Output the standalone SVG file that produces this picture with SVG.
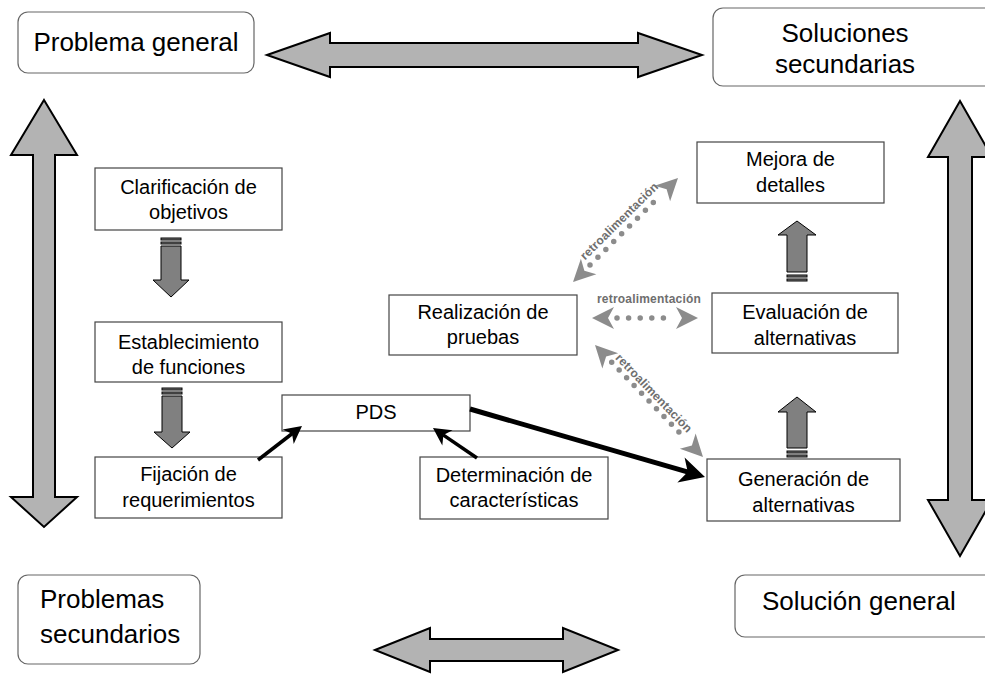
<svg xmlns="http://www.w3.org/2000/svg" width="985" height="675" viewBox="0 0 985 675">
<defs>
<style>
.t{font-family:"Liberation Sans",Arial,sans-serif;fill:#000;}
.big{font-size:26px;}
.med{font-size:20px;}
.rbox{fill:#fff;stroke:#666;stroke-width:1.2;}
.box{fill:#fff;stroke:#444;stroke-width:1.2;}
.bigarrow{fill:#b3b3b3;stroke:#000;stroke-width:2;stroke-linejoin:miter;}
.blk{fill:#808080;stroke:#000;stroke-width:1;}
.dots{fill:none;stroke:#8c8c8c;stroke-width:5.5;stroke-linecap:round;}
.rhead{fill:#8c8c8c;}
.rlab{font-family:"Liberation Sans",Arial,sans-serif;font-size:12px;font-weight:bold;fill:#6e6e6e;letter-spacing:0.2px;}
.conn{fill:none;stroke:#000;}
</style>
<marker id="stealth" viewBox="-5.5 -3 6 6" refX="-3.5" refY="0" markerWidth="6" markerHeight="6" markerUnits="strokeWidth" orient="auto">
<path d="M0,0 L-5,-2.6 L-3.6,0 L-5,2.6 Z" fill="#000"/>
</marker>
<path id="rh" d="M0,0 L-22,-11 L-16,0 L-22,11 Z"/>
</defs>
<rect width="985" height="675" fill="#fff"/>

<g id="big-arrows">
<polygon class="bigarrow" points="267,55 330,33 330,43 638,43 638,33 702,55 638,77 638,67 330,67 330,77"/>
<polygon class="bigarrow" points="44,100 77,155 55,155 55,497 77,497 44,527 11,497 33,497 33,155 11,155"/>
<polygon class="bigarrow" points="960,101 992,157 972,157 972,500 992,500 960,556 928,500 948,500 948,157 928,157"/>
<polygon class="bigarrow" points="375,650 430,628 430,639 563,639 563,628 618,650 563,672 563,661 430,661 430,672"/>
</g>

<g id="problema-general">
<rect class="rbox" x="18" y="12" width="236" height="61" rx="10"/>
<text class="t big" x="136" y="51" text-anchor="middle">Problema general</text>
</g>
<g id="soluciones-secundarias">
<rect class="rbox" x="713" y="8" width="300" height="78" rx="10"/>
<text class="t big" x="845" y="42" text-anchor="middle">Soluciones</text>
<text class="t big" x="845" y="73" text-anchor="middle">secundarias</text>
</g>
<g id="problemas-secundarios">
<rect class="rbox" x="18" y="575" width="182" height="89" rx="10"/>
<text class="t big" x="40" y="608">Problemas</text>
<text class="t big" x="40" y="643">secundarios</text>
</g>
<g id="solucion-general">
<rect class="rbox" x="735" y="575" width="280" height="62" rx="10"/>
<text class="t big" x="762" y="610">Solución general</text>
</g>

<g id="clarificacion">
<rect class="box" x="95" y="168" width="187" height="62"/>
<text class="t med" x="188.5" y="194" text-anchor="middle">Clarificación de</text>
<text class="t med" x="188.5" y="219" text-anchor="middle">objetivos</text>
</g>
<g id="establecimiento">
<rect class="box" x="95" y="322" width="187" height="60"/>
<text class="t med" x="188.5" y="349" text-anchor="middle">Establecimiento</text>
<text class="t med" x="188.5" y="374" text-anchor="middle">de funciones</text>
</g>
<g id="fijacion">
<rect class="box" x="95" y="457" width="187" height="61"/>
<text class="t med" x="188.5" y="481" text-anchor="middle">Fijación de</text>
<text class="t med" x="188.5" y="507" text-anchor="middle">requerimientos</text>
</g>
<g id="pds">
<rect class="box" x="282" y="395" width="188" height="36"/>
<text class="t med" x="376" y="419" text-anchor="middle">PDS</text>
</g>
<g id="determinacion">
<rect class="box" x="420" y="457" width="188" height="62"/>
<text class="t med" x="514" y="482" text-anchor="middle">Determinación de</text>
<text class="t med" x="514" y="507" text-anchor="middle">características</text>
</g>
<g id="realizacion">
<rect class="box" x="389" y="295" width="188" height="60"/>
<text class="t med" x="483" y="319" text-anchor="middle">Realización de</text>
<text class="t med" x="483" y="344" text-anchor="middle">pruebas</text>
</g>
<g id="mejora">
<rect class="box" x="697" y="142" width="187" height="61"/>
<text class="t med" x="790.5" y="166" text-anchor="middle">Mejora de</text>
<text class="t med" x="790.5" y="192" text-anchor="middle">detalles</text>
</g>
<g id="evaluacion">
<rect class="box" x="712" y="293" width="186" height="60"/>
<text class="t med" x="805" y="319" text-anchor="middle">Evaluación de</text>
<text class="t med" x="805" y="345" text-anchor="middle">alternativas</text>
</g>
<g id="generacion">
<rect class="box" x="707" y="459" width="193" height="62"/>
<text class="t med" x="803.5" y="486" text-anchor="middle">Generación de</text>
<text class="t med" x="803.5" y="512" text-anchor="middle">alternativas</text>
</g>

<g id="connectors">
<g class="blk">
<rect x="161" y="238" width="20" height="2"/>
<rect x="161" y="242" width="20" height="2"/>
<polygon points="161,246 181,246 181,280 189,280 171,297 153,280 161,280"/>
<rect x="162" y="388" width="20" height="2"/>
<rect x="162" y="392" width="20" height="2"/>
<polygon points="162,396 182,396 182,432 190,432 172,448 154,432 162,432"/>
<rect x="787" y="279" width="20" height="2"/>
<rect x="787" y="275" width="20" height="2"/>
<polygon points="787,272 807,272 807,235 816,235 797,221 778,235 787,235"/>
<rect x="787" y="455" width="20" height="2"/>
<rect x="787" y="451" width="20" height="2"/>
<polygon points="787,448 807,448 807,412 816,412 797,397 778,412 787,412"/>
</g>
<line class="conn" x1="258" y1="460" x2="292.3" y2="433.5" stroke-width="3.5" marker-end="url(#stealth)"/>
<line class="conn" x1="477" y1="458" x2="443.1" y2="434.9" stroke-width="3.5" marker-end="url(#stealth)"/>
<line class="conn" x1="470" y1="409" x2="688.2" y2="472.1" stroke-width="5" marker-end="url(#stealth)"/>
<path class="dots" d="M590,265.1 L661,194.9" stroke-dasharray="0 11.13"/>
<use href="#rh" class="rhead" transform="translate(678,178) rotate(-44.7)"/>
<use href="#rh" class="rhead" transform="translate(573,282) rotate(135.3)"/>
<text class="rlab" x="0" y="0" text-anchor="middle" transform="translate(622,224) rotate(-44.7)">retroalimentación</text>
<path class="dots" d="M617,318 L675,318" stroke-dasharray="0 11.6"/>
<use href="#rh" class="rhead" transform="translate(698,318)"/>
<use href="#rh" class="rhead" transform="translate(592,318) rotate(180)"/>
<text class="rlab" x="649" y="303" text-anchor="middle">retroalimentación</text>
<path class="dots" d="M611.7,362.3 L686.3,439.7" stroke-dasharray="0 10.76"/>
<use href="#rh" class="rhead" transform="translate(703,457) rotate(46)"/>
<use href="#rh" class="rhead" transform="translate(595,345) rotate(226)"/>
<text class="rlab" x="0" y="0" text-anchor="middle" transform="translate(651,396) rotate(46)">retroalimentación</text>
</g>
</svg>
